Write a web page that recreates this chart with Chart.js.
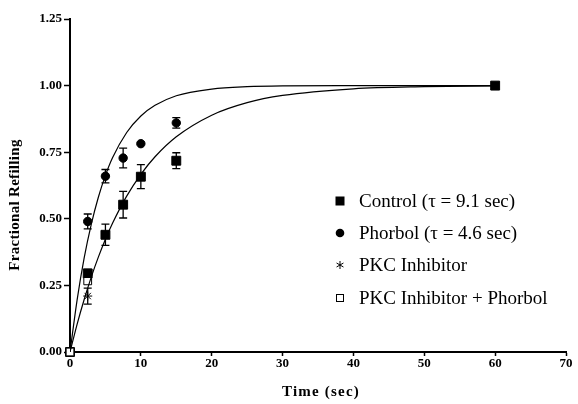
<!DOCTYPE html>
<html>
<head>
<meta charset="utf-8">
<script src="https://cdn.jsdelivr.net/npm/chart.js@4"></script>
<style>
  html, body { margin: 0; padding: 0; background: #fff; }
  #wrap { width: 578px; height: 404px; }
</style>
</head>
<body>
<div id="wrap"><canvas id="refillChart"></canvas></div>
<script>
// measured points (time in sec)
const controlTimes = [0, 2.5, 5, 7.5, 10, 15, 60];
const controlValues = [0, 0.295, 0.44, 0.553, 0.658, 0.718, 1.0];
const controlErrors = [0, 0.015, 0.04, 0.05, 0.045, 0.03, 0];

const phorbolTimes = [0, 2.5, 5, 7.5, 10, 15];
const phorbolValues = [0, 0.49, 0.66, 0.728, 0.782, 0.86];
const phorbolErrors = [0, 0.028, 0.025, 0.037, 0, 0.02];

const pkcTimes = [0, 2.5];
const pkcValues = [0, 0.21];
const pkcErrors = [0, 0.03];

const pkcPhorbolTimes = [0, 2.5];
const pkcPhorbolValues = [0, 0.267];

// fitted curves
const fitTimes = [0, 1, 2, 3, 4, 5, 6, 8, 10, 12, 15, 20, 25, 30, 40, 50, 60];
const controlFit = [0, 0.104, 0.197, 0.281, 0.356, 0.423, 0.483, 0.585, 0.667, 0.733, 0.808, 0.889, 0.936, 0.963, 0.988, 0.996, 0.999];
const phorbolFit = [0, 0.195, 0.353, 0.479, 0.581, 0.663, 0.729, 0.824, 0.886, 0.926, 0.962, 0.987, 0.996, 0.999, 1.0, 1.0, 1.0];

const xTicks = [0, 10, 20, 30, 40, 50, 60, 70];
const yTicks = [0, 0.25, 0.5, 0.75, 1.0, 1.25];

const legendLabels = ['Control (\u03c4 = 9.1 sec)', 'Phorbol (\u03c4 = 4.6 sec)', 'PKC Inhibitor', 'PKC Inhibitor + Phorbol'];

const toXY = (xs, ys) => xs.map((x, i) => ({ x: x, y: ys[i] }));

const serif = "'Liberation Serif', 'Times New Roman', serif";

const errorBars = {
  id: 'errorBars',
  afterDatasetsDraw(chart) {
    const { ctx, scales: { x, y } } = chart;
    ctx.save();
    ctx.strokeStyle = '#000';
    ctx.lineWidth = 1.3;
    chart.data.datasets.forEach(ds => {
      if (!ds.errors) return;
      ds.data.forEach((p, i) => {
        const e = ds.errors[i];
        if (!e) return;
        const px = x.getPixelForValue(p.x);
        const top = y.getPixelForValue(p.y + e);
        const bot = y.getPixelForValue(p.y - e);
        ctx.beginPath();
        ctx.moveTo(px, top); ctx.lineTo(px, bot);
        ctx.moveTo(px - 4, top); ctx.lineTo(px + 4, top);
        ctx.moveTo(px - 4, bot); ctx.lineTo(px + 4, bot);
        ctx.stroke();
      });
    });
    ctx.restore();
  }
};

// axis titles with the wider spacing of the original
const axisTitles = {
  id: 'axisTitles',
  afterDraw(chart) {
    const ctx = chart.ctx;
    ctx.save();
    ctx.fillStyle = '#000';
    ctx.textAlign = 'center';
    ctx.textBaseline = 'middle';
    ctx.font = 'bold 15px ' + serif;
    ctx.letterSpacing = '1.2px';
    ctx.fillText('Time (sec)', 321, 392);
    ctx.letterSpacing = '0.3px';
    ctx.translate(15, 205);
    ctx.rotate(-Math.PI / 2);
    ctx.fillText('Fractional Refilling', 0, 0);
    ctx.restore();
  }
};

const insideLegend = {
  id: 'insideLegend',
  afterDraw(chart) {
    const ctx = chart.ctx;
    const mx = 340, tx = 359;
    const rows = [201, 233, 265, 298];
    ctx.save();
    ctx.fillStyle = '#000';
    ctx.strokeStyle = '#000';
    // filled square
    ctx.fillRect(mx - 4.5, rows[0] - 4.5, 9, 9);
    // filled circle
    ctx.beginPath(); ctx.arc(mx, rows[1], 4.3, 0, Math.PI * 2); ctx.fill();
    // asterisk
    ctx.lineWidth = 1;
    ctx.beginPath();
    for (let k = 0; k < 3; k++) {
      const a = Math.PI / 2 + k * Math.PI / 3;
      ctx.moveTo(mx + 4 * Math.cos(a), rows[2] + 4 * Math.sin(a));
      ctx.lineTo(mx - 4 * Math.cos(a), rows[2] - 4 * Math.sin(a));
    }
    ctx.stroke();
    // open square
    ctx.strokeRect(mx - 3.5, rows[3] - 3.5, 7, 7);
    ctx.font = '19px ' + serif;
    ctx.textBaseline = 'middle';
    legendLabels.forEach((t, i) => ctx.fillText(t, tx, rows[i] + 1));
    ctx.restore();
  }
};

new Chart(document.getElementById('refillChart'), {
  type: 'scatter',
  data: {
    datasets: [
      { label: 'Control fit', type: 'line', data: toXY(fitTimes, controlFit), borderColor: '#000', borderWidth: 1.2,
        pointRadius: 0, cubicInterpolationMode: 'monotone', fill: false },
      { label: 'Phorbol fit', type: 'line', data: toXY(fitTimes, phorbolFit), borderColor: '#000', borderWidth: 1.2,
        pointRadius: 0, cubicInterpolationMode: 'monotone', fill: false },
      { label: legendLabels[3], data: toXY(pkcPhorbolTimes, pkcPhorbolValues), pointStyle: 'rect', pointRadius: 5.5,
        backgroundColor: '#fff', borderColor: '#000', borderWidth: 1, clip: false },
      { label: legendLabels[2], data: toXY(pkcTimes, pkcValues), errors: pkcErrors, pointStyle: 'star', pointRadius: 4.5,
        borderColor: '#000', borderWidth: 1, clip: false },
      { label: legendLabels[1], data: toXY(phorbolTimes, phorbolValues), errors: phorbolErrors, pointStyle: 'circle', pointRadius: 4.2,
        backgroundColor: '#000', borderColor: '#000', clip: false },
      { label: legendLabels[0], data: toXY(controlTimes, controlValues), errors: controlErrors, pointStyle: 'rect', pointRadius: 6.3,
        backgroundColor: '#000', borderColor: '#000', clip: false }
    ]
  },
  options: {
    responsive: true,
    maintainAspectRatio: false,
    animation: false,
    layout: { padding: { left: 0, right: 12, top: 19, bottom: 0 } },
    plugins: { legend: { display: false }, tooltip: { enabled: false } },
    scales: {
      x: {
        type: 'linear', min: 0, max: 70,
        afterBuildTicks: s => { s.ticks = xTicks.map(v => ({ value: v })); },
        afterFit: s => { s.height = 52; },
        border: { color: '#000', width: 2 },
        grid: { drawOnChartArea: false, drawTicks: true, tickLength: 4, tickWidth: 1.5, tickColor: '#000' },
        ticks: { color: '#000', padding: 0, maxRotation: 0, font: { family: serif, size: 13, weight: 'bold' } }
      },
      y: {
        type: 'linear', min: 0, max: 1.25,
        afterBuildTicks: s => { s.ticks = yTicks.map(v => ({ value: v })); },
        afterFit: s => { s.width = 70; },
        border: { color: '#000', width: 2 },
        grid: { drawOnChartArea: false, drawTicks: true, tickLength: 6, tickWidth: 1.5, tickColor: '#000' },
        ticks: { color: '#000', padding: 2, font: { family: serif, size: 13, weight: 'bold' },
          callback: v => v.toFixed(2) }
      }
    }
  },
  plugins: [errorBars, axisTitles, insideLegend]
});
</script>
</body>
</html>
